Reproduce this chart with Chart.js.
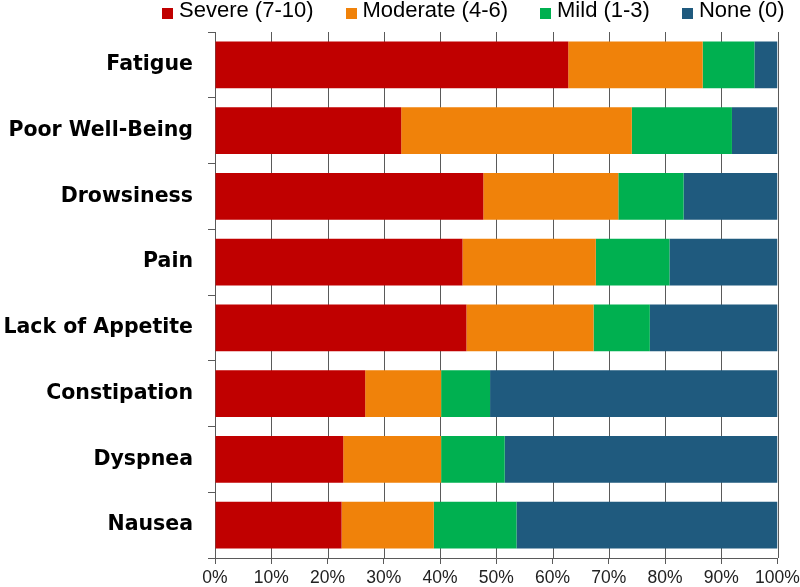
<!DOCTYPE html>
<html>
<head>
<meta charset="utf-8">
<script src="https://cdn.jsdelivr.net/npm/chart.js@4.4.1/dist/chart.umd.min.js"></script>
<style>
    html, body { margin: 0; padding: 0; background: #fff; }
    .chart-wrap { position: relative; width: 800px; height: 587px; }
    #legend {
        position: absolute; left: 162px; top: -1px;
        display: flex; font-family: "Liberation Sans", Arial, sans-serif;
        font-size: 22px; line-height: 22px; color: #000; white-space: nowrap;
    }
    .legend-item { display: flex; align-items: center; margin-right: 32px; }
    .legend-box { width: 11px; height: 11px; margin-right: 6px; position: relative; top: 3px; }
</style>
</head>
<body>
<div class="chart-wrap">
    <canvas id="symptomChart" width="800" height="587"></canvas>
    <div id="legend"></div>
</div>
<script>
const categories = ['Fatigue', 'Poor Well-Being', 'Drowsiness', 'Pain', 'Lack of Appetite', 'Constipation', 'Dyspnea', 'Nausea'];
const seriesNames = ['Severe (7-10)', 'Moderate (4-6)', 'Mild (1-3)', 'None (0)'];
const severe = [62.8, 33.1, 47.7, 44.0, 44.7, 26.7, 22.8, 22.5];
const moderate = [23.9, 41.0, 24.0, 23.7, 22.6, 13.5, 17.4, 16.4];
const mild = [9.2, 17.8, 11.6, 13.1, 10.0, 8.7, 11.3, 14.7];
const none = [4.1, 8.1, 16.7, 19.2, 22.7, 51.1, 48.5, 46.4];
const xTickStep = 10;

const colors = ['#C00000', '#F0820A', '#00B050', '#1F5A7E'];
const seriesValues = [severe, moderate, mild, none];
const gridColor = '#5a5a5a';

// html legend built from the series names
const legendEl = document.getElementById('legend');
seriesNames.forEach((name, i) => {
    legendEl.innerHTML += `<div class="legend-item"><span class="legend-box" style="background:${colors[i]}"></span>${name}</div>`;
});

// vertical gridlines behind the bars, at the x scale's ticks
const xGridPlugin = {
    id: 'xGrid',
    beforeDatasetsDraw(chart) {
        const { ctx, chartArea, scales } = chart;
        ctx.save();
        ctx.strokeStyle = gridColor;
        ctx.lineWidth = 1;
        scales.x.ticks.forEach(t => {
            const x = Math.round(scales.x.getPixelForValue(t.value)) + 0.5;
            ctx.beginPath();
            ctx.moveTo(x, chartArea.top);
            ctx.lineTo(x, chartArea.bottom);
            ctx.stroke();
        });
        ctx.restore();
    }
};

const ctx = document.getElementById('symptomChart').getContext('2d');
new Chart(ctx, {
    type: 'bar',
    data: {
        labels: categories,
        datasets: seriesNames.map((name, i) => ({
            label: name,
            data: seriesValues[i],
            backgroundColor: colors[i],
            borderWidth: 0,
            barPercentage: 0.71,
            categoryPercentage: 1.0
        }))
    },
    options: {
        indexAxis: 'y',
        responsive: false,
        animation: false,
        layout: { padding: { top: 32, right: 0, left: 0, bottom: 0 } },
        plugins: {
            legend: { display: false },
            tooltip: { enabled: false }
        },
        scales: {
            x: {
                stacked: true,
                min: 0,
                max: 100,
                afterFit: scale => {
                    scale.height = 29;
                    scale.paddingRight = 22.5;
                    scale.paddingLeft = 0;
                },
                grid: { color: gridColor, lineWidth: 1, tickLength: 6, drawTicks: true, drawOnChartArea: false },
                border: { color: gridColor, width: 1 },
                ticks: {
                    stepSize: xTickStep,
                    padding: 4,
                    color: '#222',
                    font: { family: '"Liberation Sans", Arial, sans-serif', size: 17.5 },
                    callback: v => v + '%',
                    maxRotation: 0
                }
            },
            y: {
                stacked: true,
                afterFit: scale => { scale.width = 215; },
                grid: { drawOnChartArea: false, drawTicks: true, tickLength: 7, color: gridColor, offset: true },
                border: { color: gridColor, width: 1 },
                ticks: {
                    padding: 15,
                    color: '#000',
                    font: { family: '"DejaVu Sans", sans-serif', size: 20.5, weight: 'bold' }
                }
            }
        }
    },
    plugins: [xGridPlugin]
});
</script>
</body>
</html>
